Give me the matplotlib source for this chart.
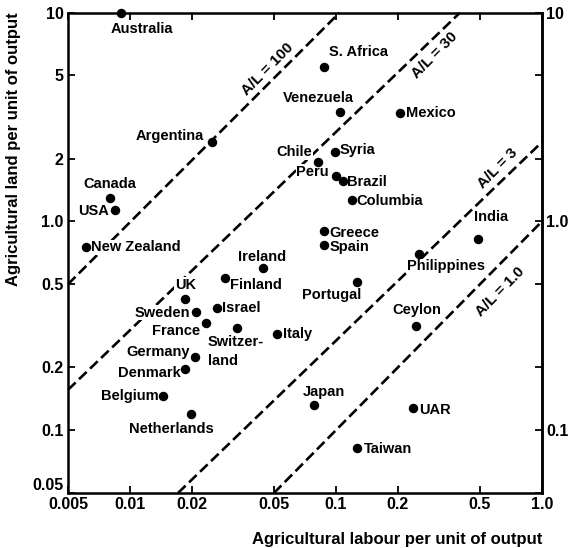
import matplotlib
matplotlib.use('Agg')
import matplotlib.pyplot as plt
from matplotlib.ticker import NullLocator

plt.rcParams['font.family'] = ['Liberation Sans', 'DejaVu Sans']
plt.rcParams['font.weight'] = 'bold'

# Data
countries = ['Australia', 'Canada', 'USA', 'New Zealand', 'Argentina', 'S. Africa',
             'Venezuela', 'Mexico', 'Syria', 'Chile', 'Peru', 'Brazil', 'Columbia',
             'India', 'Greece', 'Spain', 'Philippines', 'Ireland', 'Finland', 'UK',
             'Sweden', 'Israel', 'France', 'Switzer-\nland', 'Italy', 'Germany',
             'Denmark', 'Belgium', 'Netherlands', 'Portugal', 'Ceylon', 'Japan',
             'UAR', 'Taiwan']
labour = [0.009, 0.008, 0.0085, 0.0061, 0.025, 0.087,
          0.105, 0.205, 0.099, 0.082, 0.1, 0.108, 0.12,
          0.49, 0.087, 0.087, 0.253, 0.044, 0.029, 0.0184,
          0.021, 0.0265, 0.0233, 0.033, 0.0515, 0.0206,
          0.0184, 0.0145, 0.0198, 0.127, 0.245, 0.078,
          0.236, 0.126]
land = [10.0, 1.3, 1.13, 0.75, 2.4, 5.5,
        3.35, 3.3, 2.15, 1.93, 1.65, 1.56, 1.27,
        0.82, 0.9, 0.77, 0.695, 0.6, 0.535, 0.425,
        0.37, 0.385, 0.325, 0.31, 0.29, 0.223,
        0.197, 0.145, 0.12, 0.515, 0.317, 0.132,
        0.128, 0.082]

# A/L reference lines (end points as drawn)
ratio_names = ['A/L = 100', 'A/L = 30', 'A/L = 3', 'A/L = 1.0']
ratio_x0 = [0.005, 0.005, 0.0171, 0.05]
ratio_y0 = [0.5, 0.156, 0.05, 0.05]
ratio_x1 = [0.104, 0.40, 1.0, 1.0]
ratio_y1 = [10.0, 10.0, 2.4, 1.0]
ratio_lab_x = [0.0467, 0.30, 0.61, 0.625]
ratio_lab_y = [5.33, 6.22, 1.8, 0.46]

xticks = [0.005, 0.01, 0.02, 0.05, 0.1, 0.2, 0.5, 1.0]
xticklabels = ['0.005', '0.01', '0.02', '0.05', '0.1', '0.2', '0.5', '1.0']
yticks = [0.05, 0.1, 0.2, 0.5, 1.0, 2, 5, 10]
yticklabels = ['0.05', '0.1', '0.2', '0.5', '1.0', '2', '5', '10']
rticklabels = ['', '0.1', '', '', '1.0', '', '', '10']

# label placement: (dx, dy) in pixels, alignment
offsets = {
    'Australia': (-10, -16, 'left'), 'Canada': (0, 14, 'center'),
    'USA': (-6, -1, 'right'), 'New Zealand': (5, 0, 'left'),
    'Argentina': (-8, 6, 'right'), 'S. Africa': (5, 15, 'left'),
    'Venezuela': (-22, 14, 'center'), 'Mexico': (6, 0, 'left'),
    'Syria': (5, 2, 'left'), 'Chile': (-6, 10, 'right'),
    'Peru': (-7, 4, 'right'), 'Brazil': (4, -1, 'left'),
    'Columbia': (4, -1, 'left'), 'India': (13, 22, 'center'),
    'Greece': (6, -2, 'left'), 'Spain': (6, -2, 'left'),
    'Philippines': (27, -12, 'center'), 'Ireland': (0, 11, 'center'),
    'Finland': (5, -7, 'left'), 'UK': (1, 14, 'center'),
    'Sweden': (-6, -1, 'right'), 'Israel': (5, 0, 'left'),
    'France': (-6, -8, 'right'), 'Switzer-\nland': (-29, -24, 'left'),
    'Italy': (6, 0, 'left'), 'Germany': (-5, 5, 'right'),
    'Denmark': (-4, -4, 'right'), 'Belgium': (-5, 0, 'right'),
    'Netherlands': (-20, -15, 'center'), 'Portugal': (4, -13, 'right'),
    'Ceylon': (1, 16, 'center'), 'Japan': (10, 13, 'center'),
    'UAR': (6, -2, 'left'), 'Taiwan': (7, -1, 'left'),
}

fig = plt.figure(figsize=(5.69, 5.48), dpi=100)
ax = fig.add_axes([0.1195, 0.1004, 0.833, 0.8765])
ax.set_xscale('log')
ax.set_yscale('log')
ax.set_xlim(0.005, 1.0)
ax.set_ylim(0.05, 10.0)

for i in range(len(ratio_names)):
    ax.plot([ratio_x0[i], ratio_x1[i]], [ratio_y0[i], ratio_y1[i]], color='black',
            lw=1.9, linestyle=(0, (4, 1.8)), zorder=1, clip_on=False)
    ax.text(ratio_lab_x[i], ratio_lab_y[i], ratio_names[i], rotation=45.5,
            rotation_mode='anchor', ha='center', va='center', fontsize=11,
            fontweight='bold', zorder=3)

ax.plot(labour, land, 'o', color='black', ms=5.8, zorder=4, clip_on=False)

for name, x, y in zip(countries, labour, land):
    dx, dy, ha = offsets[name]
    ax.annotate(name, (x, y), xytext=(dx, dy), textcoords='offset pixels',
                ha=ha, va='center', fontsize=10.5, fontweight='bold',
                linespacing=1.5, zorder=3,
                bbox=dict(facecolor='white', edgecolor='none', pad=0.5))

ax.set_xticks(xticks, labels=xticklabels)
ax.set_yticks(yticks, labels=yticklabels)
ax.xaxis.set_minor_locator(NullLocator())
ax.yaxis.set_minor_locator(NullLocator())
ax.tick_params(direction='in', length=5, width=1.3, labelsize=11.5, top=True, pad=3)
ax.get_yticklabels()[0].set_va('bottom')

sec = ax.secondary_yaxis('right')
sec.set_yticks(yticks, labels=rticklabels)
sec.yaxis.set_minor_locator(NullLocator())
sec.tick_params(direction='in', length=5, width=1.3, labelsize=11.5, pad=3)
sec.spines['right'].set_linewidth(1.8)

for s in ax.spines.values():
    s.set_linewidth(1.8)

ax.set_xlabel('Agricultural labour per unit of output', loc='right', fontsize=12,
              fontweight='bold', labelpad=14)
ax.set_ylabel('Agricultural land per unit of output', loc='top', fontsize=12,
              fontweight='bold', labelpad=8)

fig.savefig('out.png', dpi=100)
